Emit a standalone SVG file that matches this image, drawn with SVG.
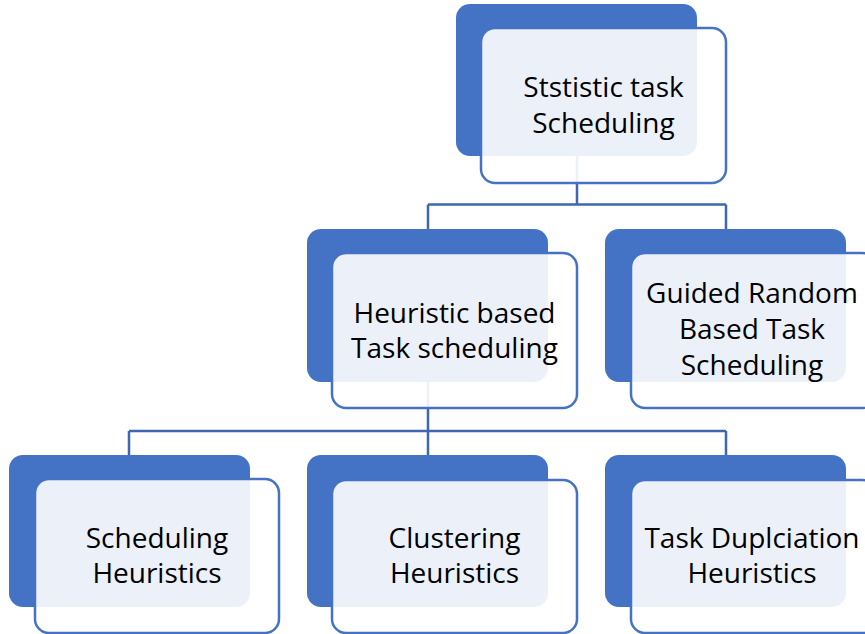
<svg xmlns="http://www.w3.org/2000/svg" width="865" height="634" viewBox="0 0 865 634">
<style>
.back{fill:#4472C4;}
.front{fill:#FFFFFF;fill-opacity:0.9;stroke:#4472C4;stroke-width:2.5;}
.lbl{font-family:"Open Sans","Noto Sans",sans-serif;font-size:28px;fill:#000;text-anchor:middle;}
.conn{fill:none;stroke:#3F66B0;stroke-width:2.5;}
</style>
<rect width="865" height="634" fill="#FFFFFF"/>
<g id="connectors">
<path class="conn" d="M577,156 V204.5 M428,204.5 H726 M428,204.5 V229 M726,204.5 V229"/>
<path class="conn" d="M428,382 V431 M129,431 H726 M129,431 V455 M428,431 V455 M726,431 V455"/>
</g>
<g id="node-static">
<rect class="back" x="456" y="4" width="241" height="152" rx="14"/>
<rect class="front" x="481" y="28" width="245" height="155" rx="14"/>
<text class="lbl" x="603.5" y="97">Ststistic task</text>
<text class="lbl" x="603.5" y="133">Scheduling</text>
</g>
<g id="node-heuristic">
<rect class="back" x="307" y="229" width="241" height="153" rx="14"/>
<rect class="front" x="332" y="253" width="245" height="155" rx="14"/>
<text class="lbl" x="454.5" y="323">Heuristic based</text>
<text class="lbl" x="454.5" y="358">Task scheduling</text>
</g>
<g id="node-guided">
<rect class="back" x="605" y="229" width="241" height="153" rx="14"/>
<rect class="front" x="631" y="253" width="245" height="155" rx="14"/>
<text class="lbl" x="752" y="303">Guided Random</text>
<text class="lbl" x="752" y="339">Based Task</text>
<text class="lbl" x="752" y="375">Scheduling</text>
</g>
<g id="node-scheduling-heuristics">
<rect class="back" x="9" y="455" width="241" height="152" rx="14"/>
<rect class="front" x="35" y="479" width="244" height="154" rx="14"/>
<text class="lbl" x="157" y="548">Scheduling</text>
<text class="lbl" x="157" y="583">Heuristics</text>
</g>
<g id="node-clustering">
<rect class="back" x="307" y="455" width="241" height="152" rx="14"/>
<rect class="front" x="332" y="480" width="245" height="153" rx="14"/>
<text class="lbl" x="454.5" y="548">Clustering</text>
<text class="lbl" x="454.5" y="583">Heuristics</text>
</g>
<g id="node-duplication">
<rect class="back" x="605" y="455" width="241" height="152" rx="14"/>
<rect class="front" x="631" y="480" width="245" height="153" rx="14"/>
<text class="lbl" x="752" y="548">Task Duplciation</text>
<text class="lbl" x="752" y="583">Heuristics</text>
</g>
</svg>
